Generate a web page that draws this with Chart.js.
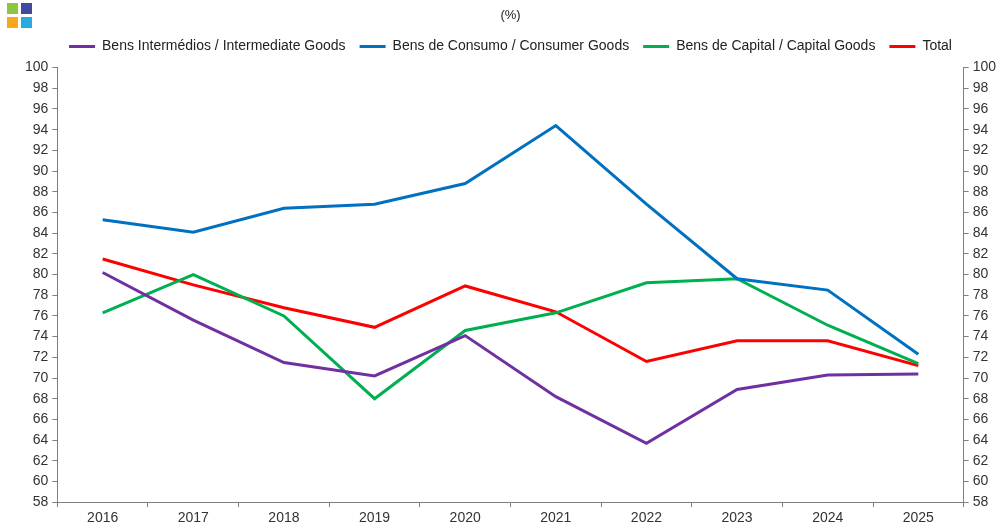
<!DOCTYPE html>
<html>
<head>
<meta charset="utf-8">
<script src="https://cdn.jsdelivr.net/npm/chart.js@4.4.0/dist/chart.umd.min.js"></script>
<style>
  body { margin: 0; background: #fff; }
  #wrap { position: relative; width: 1003px; height: 530px; }
  .sq { position: absolute; width: 11px; height: 11px; }
</style>
</head>
<body>
<div id="wrap">
  <div class="sq" style="left:7px;top:3px;background:#8DC63F"></div>
  <div class="sq" style="left:21px;top:3px;background:#3F4AA0"></div>
  <div class="sq" style="left:7px;top:17px;background:#F7A81B"></div>
  <div class="sq" style="left:21px;top:17px;background:#29ABE2"></div>
  <canvas id="chart" width="1003" height="530"></canvas>
</div>
<script>
var years = ["2016", "2017", "2018", "2019", "2020", "2021", "2022", "2023", "2024", "2025"];
var intermediate = [80.2, 75.6, 71.5, 70.2, 74.1, 68.2, 63.7, 68.9, 70.3, 70.4];
var consumer = [85.3, 84.1, 86.4, 86.8, 88.8, 94.4, 86.8, 79.6, 78.5, 72.3];
var capital = [76.3, 80.0, 76.0, 68.0, 74.6, 76.3, 79.2, 79.6, 75.1, 71.4];
var total = [81.5, 79.0, 76.8, 74.9, 78.9, 76.4, 71.6, 73.6, 73.6, 71.2];

var font = "'Liberation Sans', Arial, sans-serif";

function series(label, values, color) {
	return {
		label : label,
		data : values,
		borderColor : color,
		backgroundColor : color,
		borderWidth : 3,
		pointRadius : 0,
		tension : 0,
		pointStyle : "line"
	};
}

function yAxis(position) {
	return {
		position : position,
		min : 58,
		max : 100,
		border : { color : "#7f7f7f", width : 1 },
		grid : { display : true, drawOnChartArea : false, tickLength : 5, color : "#7f7f7f" },
		ticks : { stepSize : 2, color : "#333", padding : 4, font : { family : font, size : 14 } }
	};
}

// a little extra room under the legend
var legendGap = {
	id : "legendGap",
	beforeInit : function (chart) {
		var fit = chart.legend.fit;
		chart.legend.fit = function () {
			fit.bind(chart.legend)();
			this.height += 4;
		};
	}
};

new Chart(document.getElementById("chart"), {
	type : "line",
	data : {
		labels : years,
		datasets : [
			series("Bens Intermédios / Intermediate Goods", intermediate, "#7030A0"),
			series("Bens de Consumo / Consumer Goods", consumer, "#0070C0"),
			series("Bens de Capital / Capital Goods", capital, "#00B050"),
			series("Total", total, "#FF0000")
		]
	},
	options : {
		responsive : false,
		animation : false,
		layout : { padding : { left : 21, right : 3, top : 0, bottom : 0 } },
		plugins : {
			title : {
				display : true,
				text : "(%)",
				color : "#222",
				font : { family : font, size : 13, weight : "normal" },
				padding : { top : 8, bottom : 2 }
			},
			legend : {
				display : true,
				position : "top",
				labels : {
					usePointStyle : true,
					pointStyleWidth : 26,
					color : "#222",
					padding : 14,
					font : { family : font, size : 14 }
				}
			},
			tooltip : { enabled : false }
		},
		scales : {
			x : {
				offset : true,
				border : { color : "#7f7f7f", width : 1 },
				grid : { display : true, offset : true, drawOnChartArea : false, tickLength : 5, color : "#7f7f7f" },
				ticks : { color : "#333", padding : 3, font : { family : font, size : 14 } }
			},
			y : yAxis("left"),
			y2 : yAxis("right")
		}
	},
	plugins : [legendGap]
});
</script>
</body>
</html>
